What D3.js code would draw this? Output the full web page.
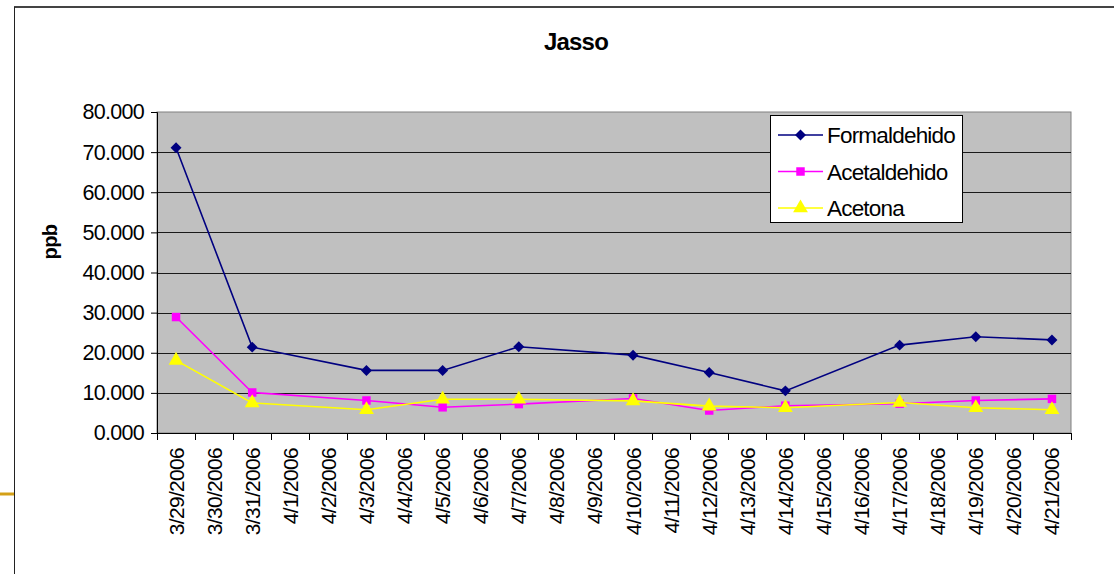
<!DOCTYPE html>
<html>
<head>
<meta charset="utf-8">
<script src="https://cdn.jsdelivr.net/npm/d3@7"></script>
<style>
  html, body { margin: 0; padding: 0; background: #fff; }
  svg { display: block; font-family: "Liberation Sans", Arial, sans-serif; }
</style>
</head>
<body>
<svg id="chart" width="1114" height="574"></svg>
<script>
// Sampling days (one category per calendar day)
const dates = ["3/29/2006","3/30/2006","3/31/2006","4/1/2006","4/2/2006","4/3/2006",
  "4/4/2006","4/5/2006","4/6/2006","4/7/2006","4/8/2006","4/9/2006","4/10/2006",
  "4/11/2006","4/12/2006","4/13/2006","4/14/2006","4/15/2006","4/16/2006","4/17/2006",
  "4/18/2006","4/19/2006","4/20/2006","4/21/2006"];

// Days with measurements
const sampleDates = ["3/29/2006","3/31/2006","4/3/2006","4/5/2006","4/7/2006",
  "4/10/2006","4/12/2006","4/14/2006","4/17/2006","4/19/2006","4/21/2006"];

const formaldehido = [71.1, 21.4, 15.6, 15.6, 21.5, 19.4, 15.1, 10.5, 21.9, 24.0, 23.2];
const acetaldehido = [28.9, 10.1, 8.1, 6.4, 7.2, 8.6, 5.6, 6.8, 7.3, 8.1, 8.5];
const acetona      = [18.1, 7.5, 5.8, 8.4, 8.4, 8.0, 6.7, 6.3, 7.6, 6.3, 5.8];

const yTicks = [0, 10, 20, 30, 40, 50, 60, 70, 80];

const seriesNames = ["Formaldehido", "Acetaldehido", "Acetona"];
const seriesColors = ["#000080", "#FF00FF", "#FFFF00"];
const seriesValues = [formaldehido, acetaldehido, acetona];
const seriesSymbols = [d3.symbolSquare, d3.symbolSquare, d3.symbolTriangle];
const symbolRotate = [45, 0, 0];
const symbolSizes = [60, 72, 95];

const svg = d3.select("#chart");

// outer chart frame
svg.append("line").attr("x1", 14).attr("y1", 7).attr("x2", 1114).attr("y2", 7)
  .attr("stroke", "#444").attr("stroke-width", 2);
svg.append("line").attr("x1", 14.5).attr("y1", 7).attr("x2", 14.5).attr("y2", 574)
  .attr("stroke", "#222").attr("stroke-width", 1);
svg.append("line").attr("x1", 0).attr("y1", 494).attr("x2", 14).attr("y2", 494)
  .attr("stroke", "#D4A017").attr("stroke-width", 3);

const plot = { left: 157, right: 1071, top: 112, bottom: 433 };

const x = d3.scaleBand().domain(dates).range([plot.left, plot.right]).paddingInner(0).paddingOuter(0);
const y = d3.scaleLinear().domain([0, 80]).range([plot.bottom, plot.top]);

// plot background
svg.append("rect")
  .attr("x", plot.left).attr("y", plot.top)
  .attr("width", plot.right - plot.left).attr("height", plot.bottom - plot.top)
  .attr("fill", "#C0C0C0").attr("stroke", "#808080").attr("stroke-width", 1);

// horizontal gridlines
svg.append("g").selectAll("line")
  .data(yTicks.filter(t => t > 0 && t < 80))
  .join("line")
  .attr("x1", plot.left).attr("x2", plot.right)
  .attr("y1", d => Math.round(y(d)) + 0.5).attr("y2", d => Math.round(y(d)) + 0.5)
  .attr("stroke", "#1a1a1a").attr("stroke-width", 1);

// y axis
const yAxis = d3.axisLeft(y).tickValues(yTicks).tickFormat(d3.format(".3f")).tickSize(6).tickPadding(7);
const gy = svg.append("g").attr("transform", `translate(${plot.left},0)`).call(yAxis);
gy.select(".domain").attr("stroke", "#000");
gy.selectAll(".tick line").attr("stroke", "#000");
gy.selectAll("text").attr("font-size", 21.5).attr("fill", "#000")
  .attr("font-family", "Liberation Sans, Arial, sans-serif").attr("letter-spacing", "-0.7");

// x axis: ticks on category boundaries
const gx = svg.append("g").attr("transform", `translate(0,${plot.bottom})`);
gx.append("line").attr("x1", plot.left).attr("x2", plot.right).attr("y1", 0.5).attr("y2", 0.5)
  .attr("stroke", "#000");
const boundaries = dates.map(d => x(d)).concat([plot.right]);
gx.selectAll("line.tk").data(boundaries).join("line").attr("class", "tk")
  .attr("x1", d => Math.round(d) + 0.5).attr("x2", d => Math.round(d) + 0.5)
  .attr("y1", 0).attr("y2", 7).attr("stroke", "#000");
gx.selectAll("text").data(dates).join("text")
  .attr("transform", d => `translate(${x(d) + x.bandwidth() / 2 + 7.5},15) rotate(-90)`)
  .attr("text-anchor", "end")
  .attr("font-size", 21).attr("letter-spacing", "-0.7")
  .attr("fill", "#000")
  .text(d => d);

// title
svg.append("text").attr("x", 576).attr("y", 50).attr("text-anchor", "middle")
  .attr("font-size", 24).attr("font-weight", "bold").attr("letter-spacing", "-0.8").text("Jasso");

// y axis title
svg.append("text").attr("transform", "translate(57,242) rotate(-90)")
  .attr("text-anchor", "middle").attr("font-size", 20).attr("font-weight", "bold")
  .attr("letter-spacing", "-0.6")
  .text("ppb");

// series
const cx = d => x(d) + x.bandwidth() / 2;
seriesValues.forEach((vals, i) => {
  const pts = sampleDates.map((d, j) => [cx(d), y(vals[j])]);
  svg.append("path")
    .attr("d", d3.line()(pts))
    .attr("fill", "none").attr("stroke", seriesColors[i]).attr("stroke-width", 1.6);
});
seriesValues.forEach((vals, i) => {
  svg.append("g").selectAll("path")
    .data(sampleDates.map((d, j) => [cx(d), y(vals[j])]))
    .join("path")
    .attr("transform", p => `translate(${p[0]},${p[1]}) rotate(${symbolRotate[i]})`)
    .attr("d", d3.symbol().type(seriesSymbols[i]).size(symbolSizes[i]))
    .attr("fill", seriesColors[i]);
});

// legend
const lg = svg.append("g").attr("transform", "translate(770,115)");
lg.append("rect").attr("x", 0.5).attr("y", 0.5).attr("width", 192).attr("height", 107)
  .attr("fill", "#fff").attr("stroke", "#000").attr("stroke-width", 1);
seriesNames.forEach((name, i) => {
  const ry = 20 + i * 36.5;
  lg.append("line").attr("x1", 8).attr("x2", 53).attr("y1", ry).attr("y2", ry)
    .attr("stroke", seriesColors[i]).attr("stroke-width", 1.6);
  lg.append("path").attr("transform", `translate(30.5,${ry}) rotate(${symbolRotate[i]})`)
    .attr("d", d3.symbol().type(seriesSymbols[i]).size(symbolSizes[i]))
    .attr("fill", seriesColors[i]);
  lg.append("text").attr("x", 57).attr("y", ry + 8).attr("font-size", 22.5)
    .attr("letter-spacing", "-0.8").attr("fill", "#000").text(name);
});
</script>
</body>
</html>
